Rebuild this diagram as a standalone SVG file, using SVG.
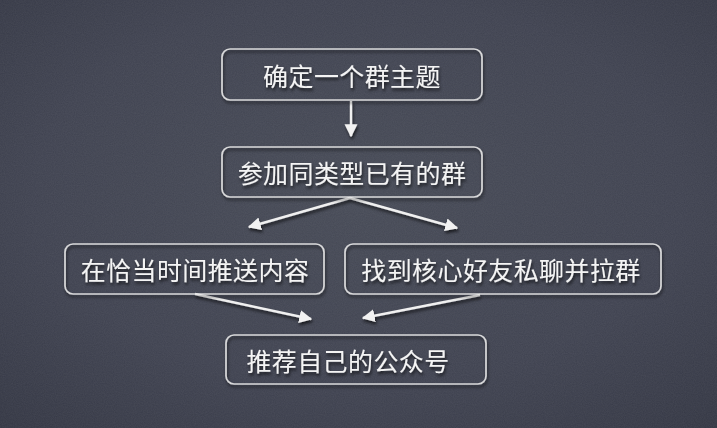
<svg xmlns="http://www.w3.org/2000/svg" width="717" height="428" viewBox="0 0 717 428">
  <defs>
    <radialGradient id="bg" cx="50%" cy="45%" r="75%">
      <stop offset="0" stop-color="#464a56"/>
      <stop offset="0.6" stop-color="#3f4250"/>
      <stop offset="1" stop-color="#333643"/>
    </radialGradient>
    <filter id="noise" x="0" y="0" width="100%" height="100%">
      <feTurbulence type="fractalNoise" baseFrequency="0.9" numOctaves="2" seed="3" result="n"/>
      <feColorMatrix type="matrix" values="0 0 0 0 1  0 0 0 0 1  0 0 0 0 1  0 0 0 0.07 0"/>
    </filter>
    <filter id="shadow" x="-10%" y="-30%" width="120%" height="160%">
      <feDropShadow dx="1" dy="2.5" stdDeviation="1.5" flood-color="#000" flood-opacity="0.65"/>
    </filter>
    <marker id="arrow" viewBox="0 0 10 10" refX="9" refY="5" markerWidth="13" markerHeight="15" markerUnits="userSpaceOnUse" orient="auto">
      <path d="M0,0 L10,5 L0,10 z" fill="#f2f2f2"/>
    </marker>
    <style>
      .box { fill: none; stroke: #e8e8e8; stroke-width: 1.7; stroke-opacity: 0.9; }
      .label { font-family: "Noto Sans CJK SC", "Noto Sans CJK JP", sans-serif; font-size: 25px; letter-spacing: 0.4px; fill: #f4f4f4; text-anchor: middle; dominant-baseline: central; }
      .conn { stroke: #f0f0f0; stroke-width: 2.4; fill: none; marker-end: url(#arrow); }
    </style>
  </defs>

  <rect width="717" height="428" fill="url(#bg)"/>
  <rect width="717" height="428" filter="url(#noise)"/>

  <g id="connectors" filter="url(#shadow)">
    <line class="conn" x1="351" y1="101" x2="351" y2="136"/>
    <line class="conn" x1="350" y1="198" x2="249" y2="227"/>
    <line class="conn" x1="350" y1="198" x2="457" y2="228"/>
    <line class="conn" x1="195" y1="294" x2="311" y2="319"/>
    <line class="conn" x1="480" y1="295" x2="363" y2="318"/>
  </g>

  <g id="n1" filter="url(#shadow)">
    <rect class="box" x="222" y="49" width="260" height="51" rx="8"/>
    <text class="label" x="352" y="75">确定一个群主题</text>
  </g>
  <g id="n2" filter="url(#shadow)">
    <rect class="box" x="222" y="147" width="260" height="50" rx="8"/>
    <text class="label" x="352" y="172">参加同类型已有的群</text>
  </g>
  <g id="n3" filter="url(#shadow)">
    <rect class="box" x="65" y="244" width="259" height="50" rx="8"/>
    <text class="label" x="195" y="269">在恰当时间推送内容</text>
  </g>
  <g id="n4" filter="url(#shadow)">
    <rect class="box" x="345" y="244" width="316" height="50" rx="8"/>
    <text class="label" x="501" y="269">找到核心好友私聊并拉群</text>
  </g>
  <g id="n5" filter="url(#shadow)">
    <rect class="box" x="226" y="335" width="260" height="49" rx="8"/>
    <text class="label" x="348" y="360">推荐自己的公众号</text>
  </g>
</svg>
